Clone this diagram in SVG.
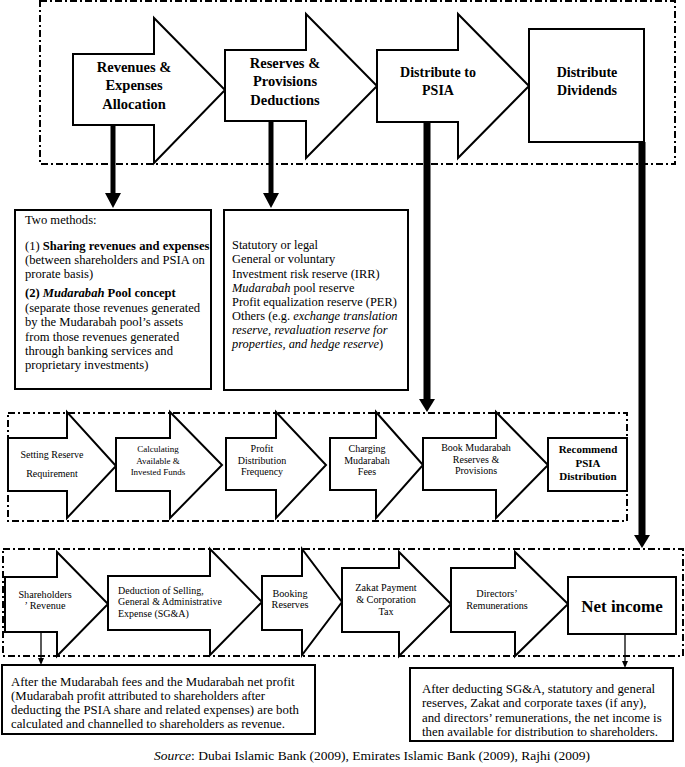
<svg xmlns="http://www.w3.org/2000/svg" width="685" height="767" viewBox="0 0 685 767">
<style>
.frame{fill:none;stroke:#000;stroke-width:2;stroke-dasharray:7 3 2 3}
.shape{fill:#fff;stroke:#000;stroke-width:2;stroke-linejoin:miter}
.t{font-family:"Liberation Serif","Times New Roman",serif;fill:#000}
.title{font-size:14.5px;font-weight:bold;text-anchor:middle}
.title2{font-size:14px;font-weight:bold;text-anchor:middle}
.mid{font-size:10px;text-anchor:middle}
.bot{font-size:10.2px;text-anchor:middle}
.box{font-size:12.6px}
.note{font-size:12.8px}
.thick{stroke:#000;stroke-width:6}
.thin{stroke:#000;stroke-width:1.3}
</style>
<rect width="685" height="767" fill="#fff"/>
<g id="frames">
<rect class="frame" x="40" y="1" width="635" height="163"/>
<rect class="frame" x="8" y="413" width="619" height="108"/>
<rect class="frame" x="3" y="549" width="680" height="107"/>
</g>
<g id="connectors">
<line class="thick" x1="113" y1="125" x2="113" y2="196" style="stroke-width:5"/>
<polygon points="105,193 121,193 113,208"/>
<line class="thick" x1="271" y1="121" x2="271" y2="196" style="stroke-width:5"/>
<polygon points="263,193 279,193 271,208"/>
<line class="thick" x1="427" y1="122" x2="427" y2="402" style="stroke-width:7"/>
<polygon points="419,399 435,399 427,412"/>
<line class="thick" x1="642" y1="142" x2="642" y2="538" style="stroke-width:7"/>
<polygon points="634,535 650,535 642,548"/>
<line class="thin" x1="41" y1="632" x2="41" y2="660"/>
<polygon points="38,658 44,658 41,665"/>
<line class="thin" x1="625" y1="634" x2="625" y2="663"/>
<polygon points="622,661 628,661 625,668"/>
</g>
<g id="revenues">
<polygon class="shape" points="73,54 154,54 154,18 225,90 154,163 154,125 73,125"/>
<text class="t title"><tspan x="134" y="72">Revenues &amp;</tspan><tspan x="134" y="90">Expenses</tspan><tspan x="134" y="109">Allocation</tspan></text>
</g>
<g id="reserves">
<polygon class="shape" points="225,50 306,50 306,14 377,86 306,158 306,121 225,121"/>
<text class="t title"><tspan x="285" y="68">Reserves &amp;</tspan><tspan x="285" y="86">Provisions</tspan><tspan x="285" y="105">Deductions</tspan></text>
</g>
<g id="distribute-psia">
<polygon class="shape" points="377,50 458,50 458,14 529,86 458,158 458,122 377,122"/>
<text class="t title2"><tspan x="438" y="77">Distribute to</tspan><tspan x="438" y="95">PSIA</tspan></text>
</g>
<g id="distribute-dividends">
<rect class="shape" x="529" y="29" width="115" height="113"/>
<text class="t title2"><tspan x="587" y="77">Distribute</tspan><tspan x="587" y="95">Dividends</tspan></text>
</g>
<g id="two-methods">
<rect class="shape" x="15" y="210" width="196" height="179"/>
<text class="t box">
<tspan x="25" y="224">Two methods:</tspan>
<tspan x="25" y="250">(1) <tspan font-weight="bold">Sharing revenues and expenses</tspan></tspan>
<tspan x="25" y="264">(between shareholders and PSIA on</tspan>
<tspan x="25" y="278">prorate basis)</tspan>
<tspan x="25" y="297" font-weight="bold">(2) <tspan font-style="italic">Mudarabah</tspan> Pool concept</tspan>
<tspan x="25" y="312">(separate those revenues generated</tspan>
<tspan x="25" y="326">by the Mudarabah pool’s assets</tspan>
<tspan x="25" y="341">from those revenues generated</tspan>
<tspan x="25" y="355">through banking services and</tspan>
<tspan x="25" y="369">proprietary investments)</tspan>
</text>
</g>
<g id="reserve-types">
<rect class="shape" x="224" y="210" width="184" height="180"/>
<text class="t box" style="font-size:12.4px">
<tspan x="232" y="249">Statutory or legal</tspan>
<tspan x="232" y="263">General or voluntary</tspan>
<tspan x="232" y="278">Investment risk reserve (IRR)</tspan>
<tspan x="232" y="292"><tspan font-style="italic">Mudarabah</tspan> pool reserve</tspan>
<tspan x="232" y="306">Profit equalization reserve (PER)</tspan>
<tspan x="232" y="320">Others (e.g. <tspan font-style="italic">exchange translation</tspan></tspan>
<tspan x="232" y="334" font-style="italic">reserve, revaluation reserve for</tspan>
<tspan x="232" y="348"><tspan font-style="italic">properties, and hedge reserve</tspan>)</tspan>
</text>
</g>
<g id="setting-reserve">
<polygon class="shape" points="8,438 67,438 67,412 116,466 67,518 67,491 8,491"/>
<text class="t mid"><tspan x="52" y="458">Setting Reserve</tspan><tspan x="52" y="477">Requirement</tspan></text>
</g>
<g id="calculating-funds">
<polygon class="shape" points="116,438 170,438 170,412 222,465 170,518 170,491 116,491"/>
<text class="t mid" style="font-size:9px"><tspan x="158" y="452">Calculating</tspan><tspan x="158" y="464">Available &amp;</tspan><tspan x="158" y="475">Invested Funds</tspan></text>
</g>
<g id="profit-frequency">
<polygon class="shape" points="226,438 276,438 276,412 326,465 276,518 276,490 226,490"/>
<text class="t mid"><tspan x="262" y="452">Profit</tspan><tspan x="262" y="464">Distribution</tspan><tspan x="262" y="475">Frequency</tspan></text>
</g>
<g id="charging-fees">
<polygon class="shape" points="330,438 376,438 376,412 423,465 376,518 376,490 330,490"/>
<text class="t mid"><tspan x="367" y="452">Charging</tspan><tspan x="367" y="464">Mudarabah</tspan><tspan x="367" y="475">Fees</tspan></text>
</g>
<g id="book-reserves">
<polygon class="shape" points="423,438 496,438 496,412 548,465 496,518 496,490 423,490"/>
<text class="t mid"><tspan x="476" y="451">Book Mudarabah</tspan><tspan x="476" y="463">Reserves &amp;</tspan><tspan x="476" y="474">Provisions</tspan></text>
</g>
<g id="recommend-psia">
<rect class="shape" x="548" y="438" width="79" height="53"/>
<text class="t" style="font-size:11px;font-weight:bold;text-anchor:middle"><tspan x="588" y="453">Recommend</tspan><tspan x="588" y="467">PSIA</tspan><tspan x="588" y="480">Distribution</tspan></text>
</g>
<g id="shareholders-revenue">
<polygon class="shape" points="5,577 57,577 57,552 108,604 57,656 57,632 5,632"/>
<text class="t bot"><tspan x="45" y="598">Shareholders</tspan><tspan x="45" y="609">’    Revenue</tspan></text>
</g>
<g id="sga">
<polygon class="shape" points="108,576 210,576 210,549 262,602 210,655 210,630 108,630"/>
<text class="t" style="font-size:10px"><tspan x="118" y="594">Deduction of Selling,</tspan><tspan x="118" y="605">General &amp; Administrative</tspan><tspan x="118" y="617">Expense (SG&amp;A)</tspan></text>
</g>
<g id="booking-reserves">
<polygon class="shape" points="262,576 302,576 302,549 342,602 302,655 302,630 262,630"/>
<text class="t bot"><tspan x="290" y="597">Booking</tspan><tspan x="290" y="608">Reserves</tspan></text>
</g>
<g id="zakat">
<polygon class="shape" points="342,568 399,568 399,552 451,604 399,656 399,632 342,632"/>
<text class="t bot"><tspan x="386" y="591">Zakat Payment</tspan><tspan x="386" y="603">&amp; Corporation</tspan><tspan x="386" y="615">Tax</tspan></text>
</g>
<g id="directors">
<polygon class="shape" points="451,568 515,568 515,552 568,604 515,656 515,632 451,632"/>
<text class="t bot"><tspan x="497" y="597">Directors’</tspan><tspan x="497" y="609">Remunerations</tspan></text>
</g>
<g id="net-income">
<rect class="shape" x="568" y="577" width="108" height="57"/>
<text class="t" x="622" y="612" style="font-size:17px;font-weight:bold;text-anchor:middle">Net income</text>
</g>
<g id="note-revenue">
<rect class="shape" x="2" y="665" width="313" height="69"/>
<text class="t note">
<tspan x="11" y="686">After the Mudarabah fees and the Mudarabah net profit</tspan>
<tspan x="11" y="700">(Mudarabah profit attributed to shareholders after</tspan>
<tspan x="11" y="714">deducting the PSIA share and related expenses) are both</tspan>
<tspan x="11" y="728">calculated and channelled to shareholders as revenue.</tspan>
</text>
</g>
<g id="note-net-income">
<rect class="shape" x="410" y="668" width="263" height="73"/>
<text class="t note">
<tspan x="422" y="693">After deducting SG&amp;A, statutory and general</tspan>
<tspan x="422" y="707">reserves, Zakat and corporate taxes (if any),</tspan>
<tspan x="422" y="722">and directors’ remunerations, the net income is</tspan>
<tspan x="422" y="736">then available for distribution to shareholders.</tspan>
</text>
</g>
<text class="t" x="372" y="760" style="font-size:13.5px;text-anchor:middle"><tspan font-style="italic">Source</tspan>: Dubai Islamic Bank (2009), Emirates Islamic Bank (2009), Rajhi (2009)</text>
</svg>
